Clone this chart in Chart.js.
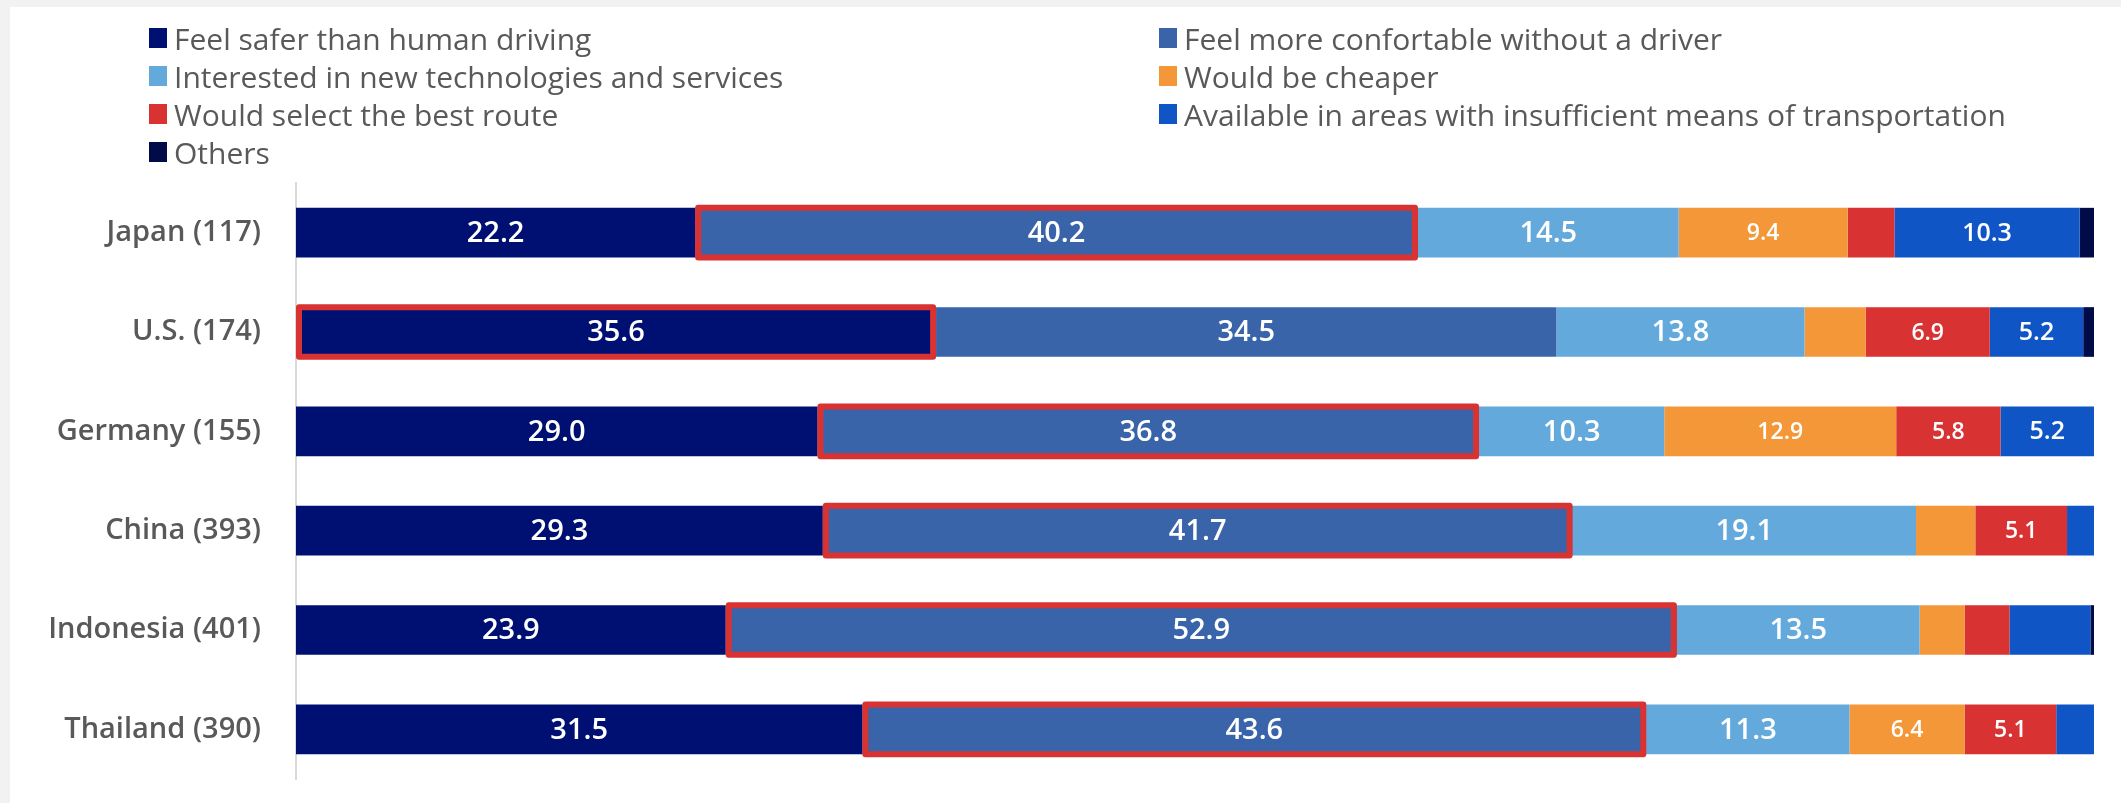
<!DOCTYPE html>
<html>
<head>
<meta charset="utf-8">
<script src="https://cdn.jsdelivr.net/npm/chart.js@4.4.1/dist/chart.umd.min.js"></script>
<style>
  html, body { margin: 0; padding: 0; background: #f2f2f2; }
  body { width: 2121px; height: 803px; position: relative; overflow: hidden; font-family: "Open Sans", sans-serif; }
  #panel { position: absolute; left: 10px; top: 7px; right: 0; bottom: 0; background: #fff; }
  #chart { position: absolute; left: 0; top: 0; }
  #legend { position: absolute; left: 149px; top: 19px; display: grid; grid-template-columns: 1010px auto; }
  .item { display: flex; align-items: center; height: 38px; font-size: 30px; color: #595959; white-space: nowrap; }
  .item i { display: inline-block; width: 18px; height: 20px; margin-right: 7px; }
</style>
</head>
<body>
<div id="panel"></div>
<canvas id="chart" width="2121" height="803"></canvas>
<div id="legend"></div>
<script>
const countries = ['Japan (117)', 'U.S. (174)', 'Germany (155)', 'China (393)', 'Indonesia (401)', 'Thailand (390)'];

const saferThanHuman  = [22.2, 35.6, 29.0, 29.3, 23.9, 31.5];
const comfortable     = [40.2, 34.5, 36.8, 41.7, 52.9, 43.6];
const newTechnologies = [14.5, 13.8, 10.3, 19.1, 13.5, 11.3];
const cheaper         = [9.4, 3.4, 12.9, 3.3, 2.5, 6.4];
const bestRoute       = [2.6, 6.9, 5.8, 5.1, 2.5, 5.1];
const insufficientTransport = [10.3, 5.2, 5.2, 1.5, 4.5, 2.1];
const others          = [0.8, 0.6, 0, 0, 0.2, 0];

// which reason gets the red outline in each country row
const highlighted = [1, 0, 1, 1, 1, 1];

const seriesNames = [
  'Feel safer than human driving',
  'Feel more confortable without a driver',
  'Interested in new technologies and services',
  'Would be cheaper',
  'Would select the best route',
  'Available in areas with insufficient means of transportation',
  'Others'
];
const seriesData = [saferThanHuman, comfortable, newTechnologies, cheaper, bestRoute, insufficientTransport, others];
const seriesColors = ['#000f72', '#3a64a9', '#63a9dc', '#f49738', '#d83232', '#1055c5', '#000b47'];

// label font per series: the big three are larger
const labelFonts = [
  '600 29px "Open Sans"', '600 29px "Open Sans"', '600 29px "Open Sans"',
  '600 23px "Open Sans"', '600 23px "Open Sans"', '600 25px "Open Sans"', '600 23px "Open Sans"'
];

const highlightPlugin = {
  id: 'highlight',
  afterDatasetsDraw(chart) {
    const ctx = chart.ctx;
    ctx.save();
    ctx.strokeStyle = '#d83232';
    ctx.lineWidth = 6;
    ctx.lineJoin = 'round';
    highlighted.forEach((ds, i) => {
      const bar = chart.getDatasetMeta(ds).data[i];
      const left = Math.min(bar.base, bar.x);
      const right = Math.max(bar.base, bar.x);
      const top = bar.y - bar.height / 2;
      ctx.strokeRect(left + 3, top, right - left - 6, bar.height);
    });
    ctx.restore();
  }
};

const valueLabels = {
  id: 'valueLabels',
  afterDatasetsDraw(chart) {
    const ctx = chart.ctx;
    ctx.save();
    ctx.fillStyle = '#fff';
    ctx.textAlign = 'center';
    ctx.textBaseline = 'middle';
    chart.data.datasets.forEach((ds, d) => {
      ctx.font = labelFonts[d];
      chart.getDatasetMeta(d).data.forEach((bar, i) => {
        const v = ds.data[i];
        if (v < 5) return;
        ctx.fillText(v.toFixed(1), (bar.base + bar.x) / 2, bar.y + 1);
      });
    });
    ctx.restore();
  }
};

const chart = new Chart(document.getElementById('chart'), {
  type: 'bar',
  data: {
    labels: countries,
    datasets: seriesNames.map((name, k) => ({
      label: name,
      data: seriesData[k],
      backgroundColor: seriesColors[k],
      borderWidth: 0,
      categoryPercentage: 0.5,
      barPercentage: 1
    }))
  },
  options: {
    indexAxis: 'y',
    responsive: false,
    animation: false,
    layout: { padding: { left: 0, top: 183, right: 27, bottom: 24 } },
    plugins: {
      legend: { display: false },
      tooltip: { enabled: false }
    },
    scales: {
      x: {
        stacked: true,
        min: 0,
        max: 100,
        display: false
      },
      y: {
        stacked: true,
        afterFit(scale) {
          scale.width = 296;
          // tick padding should not push the plot area up from the bottom
          scale.paddingTop = 0;
          scale.paddingBottom = 0;
        },
        grid: { display: false, drawTicks: false },
        border: { display: true, color: '#d9d9d9', width: 2 },
        ticks: {
          padding: 35,
          color: '#595959',
          font: { family: 'Open Sans', size: 29, weight: '600' }
        }
      }
    }
  },
  plugins: [highlightPlugin, valueLabels]
});

// two-column legend built from the chart's datasets
const legend = document.getElementById('legend');
chart.data.datasets.forEach(ds => {
  const item = document.createElement('div');
  item.className = 'item';
  const key = document.createElement('i');
  key.style.background = ds.backgroundColor;
  item.appendChild(key);
  item.appendChild(document.createTextNode(ds.label));
  legend.appendChild(item);
});
</script>
</body>
</html>
